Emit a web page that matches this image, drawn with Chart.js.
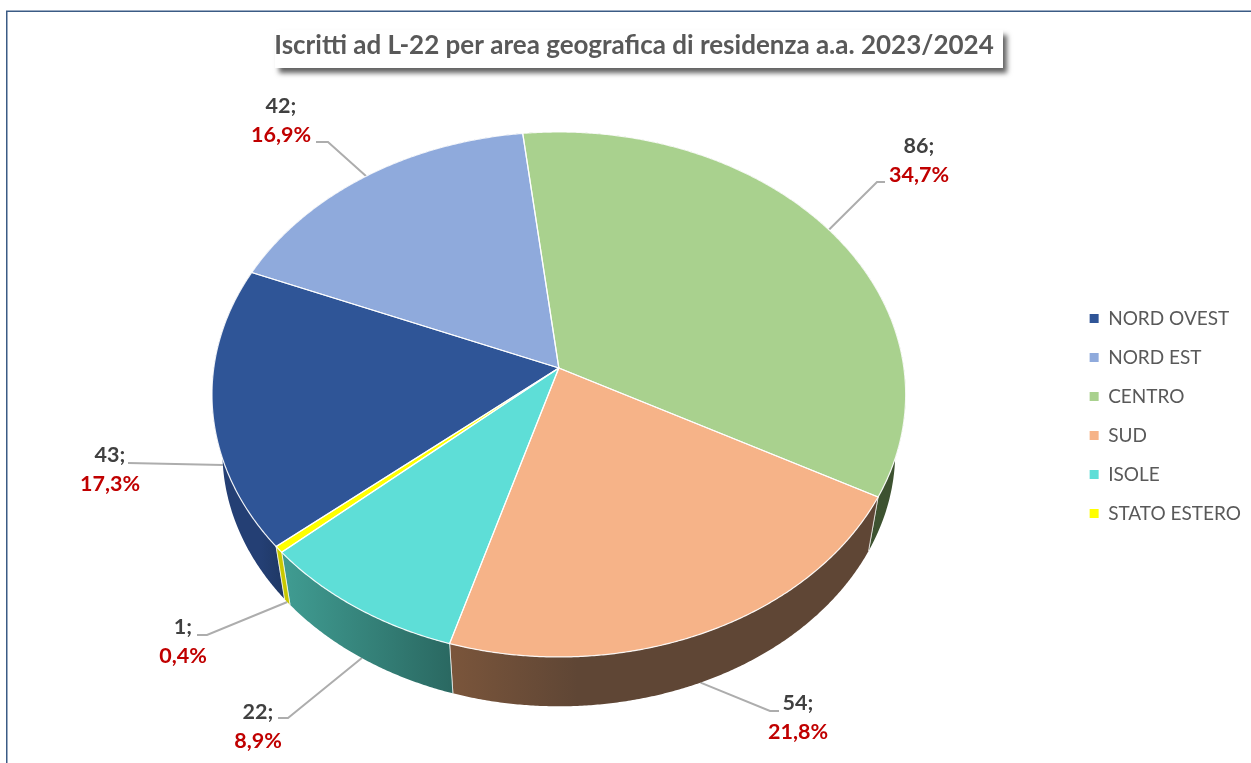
<!DOCTYPE html>
<html><head><meta charset="utf-8">
<style>html,body{margin:0;padding:0;background:#fff;overflow:hidden}#w{position:absolute;left:0;top:0;width:1251px;height:763px}</style>
<script src="https://cdn.jsdelivr.net/npm/chart.js@4"></script>
</head><body><div id="w"><canvas id="c" width="1251" height="763"></canvas></div>
<script>
const categories = ['NORD OVEST','NORD EST','CENTRO','SUD','ISOLE','STATO ESTERO'];
const iscritti = [43,42,86,54,22,1];
const percentuali = ['17,3%','16,9%','34,7%','21,8%','8,9%','0,4%'];
const titleText = 'Iscritti ad L-22 per area geografica di residenza a.a. 2023/2024';
const topColors = ['#2F5597','#8FAADC','#A9D18E','#F6B388','#5EDED7','#FFFF00'];
const wallFrom = ['#243F74','#5A6E90','#6C875A','#7A553B','#3F9A90','#C8C800'];
const wallTo = ['#1F3864','#5A6E90','#3D5230','#5F4635','#2A6861','#C8C800'];
// label centre, elbow and end of leader line, for each slice
const labelAt = [[110,455],[281,106],[919,146],[798,703],[258,712],[183,627]];
const elbowAt = [[128,463],[328,142],[877,182],[770,711],[288,718],[207,635]];
const endAt = [[128,463],[316,142],[885,182],[779,711],[278,718],[197,635]];

const FONT='Lato, Carlito, sans-serif';
const TILT=0.753, K=0.101, TOPDY=-45, DEPTH_DY=58, DEPTH_SCALE=0.97;

function project(el,theta,level){
  const u=Math.cos(theta), v=Math.sin(theta), d=1-K*v;
  const s=level?DEPTH_SCALE:1, R=el.outerRadius;
  return [el.x+R*s*u/d, el.y+TOPDY+(level?DEPTH_DY:0)+R*TILT*s*v/d];
}
function tracePath(ctx,el,a,b,level,first){
  const n=Math.max(2,Math.ceil(Math.abs(b-a)/0.006));
  for(let i=0;i<=n;i++){
    const p=project(el,a+(b-a)*i/n,level);
    if(i===0&&first)ctx.moveTo(p[0],p[1]);else ctx.lineTo(p[0],p[1]);
  }
}
const pie3d={
  id:'pie3d',
  beforeDraw(chart){
    const ctx=chart.ctx;
    ctx.save();
    ctx.strokeStyle='#3B5B85';ctx.lineWidth=1.5;
    ctx.beginPath();ctx.moveTo(6.75,770);ctx.lineTo(6.75,11.25);ctx.lineTo(1260,11.25);ctx.stroke();
    ctx.shadowColor='rgba(0,0,0,0.62)';ctx.shadowBlur=5;ctx.shadowOffsetX=4;ctx.shadowOffsetY=5;
    ctx.fillStyle='#fff';ctx.fillRect(275,30,728,38);
    ctx.restore();
  },
  beforeDatasetsDraw(chart){
    const ctx=chart.ctx, els=chart.getDatasetMeta(0).data;
    ctx.save();
    ctx.strokeStyle='#ADADAD';ctx.lineWidth=2;
    els.forEach((el,i)=>{
      const mid=(el.startAngle+el.endAngle)/2;
      const p=project(el,mid,Math.sin(mid)>0?1:0);
      ctx.beginPath();ctx.moveTo(p[0],p[1]);ctx.lineTo(elbowAt[i][0],elbowAt[i][1]);ctx.lineTo(endAt[i][0],endAt[i][1]);ctx.stroke();
    });
    ctx.lineJoin='round';
    els.forEach((el,i)=>{
      const a=el.startAngle,b=el.endAngle;
      const p0=project(el,a,1),p1=project(el,b,1);
      const g=ctx.createLinearGradient(Math.min(p0[0],p1[0]),0,Math.max(p0[0],p1[0]),0);
      g.addColorStop(0,wallFrom[i]);g.addColorStop(i===3?0.3:1,wallTo[i]);if(i===3)g.addColorStop(1,wallTo[i]);
      ctx.fillStyle=g;
      ctx.beginPath();tracePath(ctx,el,a,b,0,true);tracePath(ctx,el,b,a,1,false);ctx.closePath();ctx.fill();
      ctx.strokeStyle='rgba(255,255,255,0.65)';ctx.lineWidth=1;
      [a,b].forEach(t=>{
        if(Math.sin(t)>0.05){const q0=project(el,t,0),q1=project(el,t,1);ctx.beginPath();ctx.moveTo(q0[0],q0[1]);ctx.lineTo(q1[0],q1[1]);ctx.stroke();}
      });
    });
    els.forEach((el,i)=>{
      ctx.fillStyle=topColors[i];
      ctx.beginPath();ctx.moveTo(el.x,el.y+TOPDY);tracePath(ctx,el,el.startAngle,el.endAngle,0,false);ctx.closePath();ctx.fill();
    });
    ctx.strokeStyle='rgba(255,255,255,0.9)';ctx.lineWidth=1.2;
    els.forEach((el)=>{
      ctx.beginPath();ctx.moveTo(el.x,el.y+TOPDY);tracePath(ctx,el,el.startAngle,el.endAngle,0,false);ctx.closePath();ctx.stroke();
    });
    ctx.font='bold 21.5px '+FONT;ctx.textAlign='center';ctx.textBaseline='middle';
    els.forEach((el,i)=>{
      ctx.fillStyle='#404040';ctx.fillText(iscritti[i]+';',labelAt[i][0],labelAt[i][1]);
      ctx.fillStyle='#C00000';ctx.fillText(percentuali[i],labelAt[i][0],labelAt[i][1]+29);
    });
    ctx.restore();
    return false;
  }
};
const blockShift={
  id:'blockShift',
  afterLayout(chart){
    const l=chart.legend, d=37, t=chart.titleBlock, dx=-15.5;
    l.top+=d;l.bottom+=d;
    t.left+=dx;t.right+=dx;
  }
};
new Chart(document.getElementById('c'),{
  type:'pie',
  data:{labels:categories,datasets:[{data:iscritti,backgroundColor:topColors,borderWidth:0}]},
  plugins:[pie3d,blockShift],
  options:{
    responsive:false,animation:false,rotation:-130,
    layout:{padding:{left:48,right:0,top:0,bottom:5}},
    plugins:{
      tooltip:{enabled:false},
      title:{display:true,text:titleText,color:'#595959',font:{family:FONT,size:26,weight:'bold',lineHeight:1.15},padding:{top:31,bottom:7}},
      legend:{position:'right',labels:{color:'#595959',font:{family:FONT,size:19},boxWidth:9,boxHeight:9,padding:20}}
    }
  }
});
</script></body></html>
